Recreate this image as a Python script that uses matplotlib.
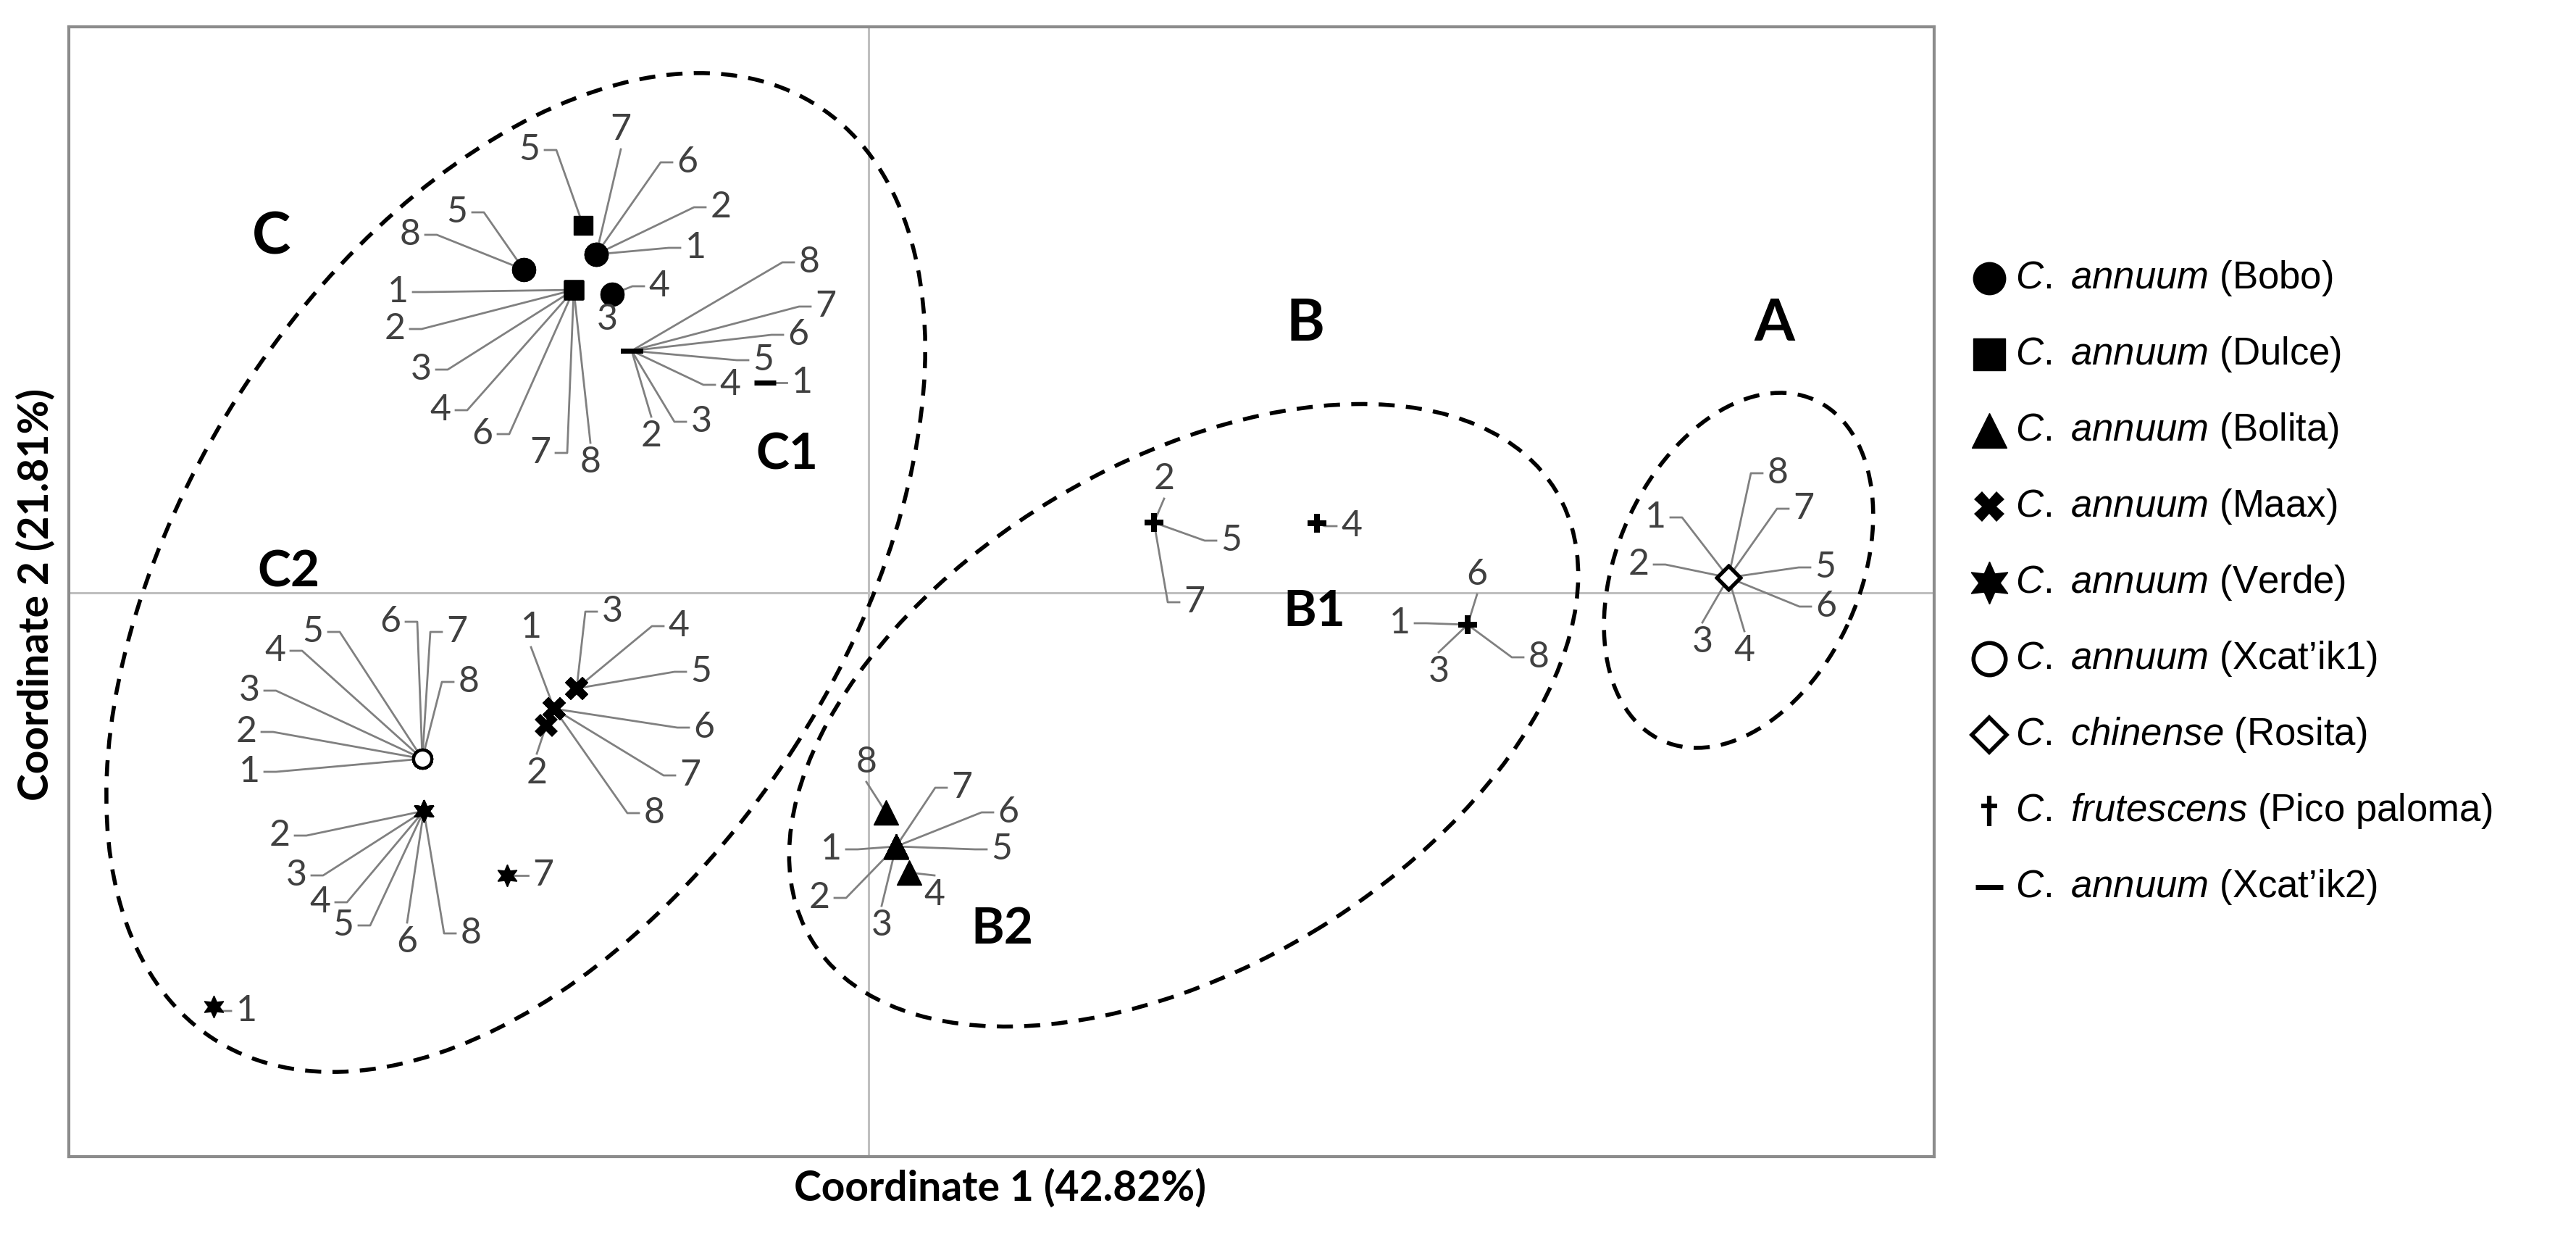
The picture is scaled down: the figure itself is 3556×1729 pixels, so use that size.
import numpy as np
import matplotlib
matplotlib.use("Agg")
import matplotlib.pyplot as plt
from matplotlib.patches import Ellipse
from matplotlib.path import Path

plt.rcParams['mathtext.fontset'] = 'custom'
plt.rcParams['mathtext.it'] = 'Liberation Sans:italic'
plt.rcParams['mathtext.rm'] = 'Liberation Sans'

# sample numbers shown next to each point
samples = [1, 2, 3, 4, 5, 6, 7, 8]

# coordinates of samples 1..8 and where their number sits
bobo_x = [-0.376, -0.376, -0.354, -0.354, -0.476, -0.376, -0.376, -0.476]
bobo_y = [0.467, 0.467, 0.412, 0.412, 0.446, 0.467, 0.467, 0.446]
bobo_lx = [-0.239, -0.204, -0.361, -0.289, -0.568, -0.250, -0.342, -0.633]
bobo_ly = [0.476, 0.532, 0.377, 0.423, 0.525, 0.594, 0.639, 0.494]

dulce_x = [-0.407, -0.407, -0.407, -0.407, -0.394, -0.407, -0.407, -0.407]
dulce_y = [0.418, 0.418, 0.418, 0.418, 0.507, 0.418, 0.418, 0.418]
dulce_lx = [-0.650, -0.654, -0.618, -0.591, -0.468, -0.533, -0.453, -0.384]
dulce_ly = [0.415, 0.364, 0.308, 0.252, 0.611, 0.219, 0.193, 0.180]

bolita_x = [0.038, 0.038, 0.038, 0.056, 0.038, 0.038, 0.038, 0.024]
bolita_y = [-0.350, -0.350, -0.350, -0.386, -0.350, -0.350, -0.350, -0.303]
bolita_lx = [-0.052, -0.068, 0.018, 0.091, 0.184, 0.193, 0.129, -0.003]
bolita_ly = [-0.354, -0.421, -0.459, -0.417, -0.354, -0.303, -0.269, -0.234]

maax_x = [-0.434, -0.445, -0.403, -0.403, -0.403, -0.434, -0.434, -0.434]
maax_y = [-0.160, -0.183, -0.132, -0.132, -0.132, -0.160, -0.160, -0.160]
maax_lx = [-0.466, -0.458, -0.354, -0.262, -0.231, -0.227, -0.246, -0.296]
maax_ly = [-0.048, -0.249, -0.026, -0.046, -0.109, -0.186, -0.252, -0.304]

verde_x = [-0.904, -0.614, -0.614, -0.614, -0.614, -0.614, -0.499, -0.614]
verde_y = [-0.571, -0.301, -0.301, -0.301, -0.301, -0.301, -0.390, -0.301]
verde_lx = [-0.859, -0.813, -0.790, -0.757, -0.725, -0.637, -0.449, -0.549]
verde_ly = [-0.577, -0.335, -0.390, -0.427, -0.459, -0.482, -0.390, -0.470]

xcat1_x = [-0.616] * 8
xcat1_y = [-0.229] * 8
xcat1_lx = [-0.855, -0.859, -0.855, -0.819, -0.767, -0.660, -0.568, -0.552]
xcat1_ly = [-0.247, -0.192, -0.135, -0.080, -0.054, -0.040, -0.054, -0.123]

rosita_x = [1.187] * 8
rosita_y = [0.021] * 8
rosita_lx = [1.086, 1.063, 1.151, 1.209, 1.321, 1.322, 1.291, 1.255]
rosita_ly = [0.104, 0.039, -0.068, -0.080, 0.035, -0.019, 0.116, 0.165]

pico_x = [0.827, 0.394, 0.827, 0.619, 0.394, 0.827, 0.394, 0.827]
pico_y = [-0.044, 0.097, -0.044, 0.096, 0.097, -0.044, 0.097, -0.044]
pico_lx = [0.733, 0.408, 0.787, 0.667, 0.501, 0.840, 0.450, 0.925]
pico_ly = [-0.042, 0.157, -0.109, 0.092, 0.072, 0.025, -0.013, -0.089]

xcat2_x = [-0.143, -0.327, -0.327, -0.327, -0.327, -0.327, -0.327, -0.327]
xcat2_y = [0.290, 0.334, 0.334, 0.334, 0.334, 0.334, 0.334, 0.334]
xcat2_lx = [-0.092, -0.300, -0.231, -0.191, -0.145, -0.097, -0.059, -0.082]
xcat2_ly = [0.290, 0.216, 0.236, 0.287, 0.321, 0.356, 0.395, 0.456]

# cluster ellipses
ell_cx = [-0.487, 0.435, 1.201]
ell_cy = [0.028, -0.169, 0.031]
ell_w = [1.534, 1.200, 0.515]
ell_h = [0.908, 0.696, 0.336]
ell_angle = [57, 31, 66]

group_names = ["C", "B", "A"]
group_x = [-0.824, 0.603, 1.250]
group_y = [0.491, 0.371, 0.371]
sub_names = ["C1", "C2", "B1", "B2"]
sub_x = [-0.113, -0.801, 0.615, 0.184]
sub_y = [0.190, 0.028, -0.026, -0.464]

legend_species = ["C. annuum", "C. annuum", "C. annuum", "C. annuum", "C. annuum",
                  "C. annuum", "C. chinense", "C. frutescens", "C. annuum"]
legend_variety = ["(Bobo)", "(Dulce)", "(Bolita)", "(Maax)", "(Verde)",
                  "(Xcat\u2019ik1)", "(Rosita)", "(Pico paloma)", "(Xcat\u2019ik2)"]

dagger = Path([(0, -1), (0, 1), (-0.55, 0.35), (0.55, 0.35)],
              [Path.MOVETO, Path.LINETO, Path.MOVETO, Path.LINETO])

styles = [
    dict(marker='o', ms=23, mfc='black', mec='black'),
    dict(marker='s', ms=19, mfc='black', mec='black'),
    dict(marker='^', ms=24, mfc='black', mec='black'),
    dict(marker='X', ms=23, mfc='black', mec='black', mew=0),
    dict(marker=(6, 1, 0), ms=22, mfc='black', mec='black'),
    dict(marker='o', ms=18, mfc='white', mec='black', mew=3),
    dict(marker='D', ms=16, mfc='white', mec='black', mew=3.5),
    dict(marker='P', ms=19, mfc='black', mec='black', mew=0),
    dict(marker='_', ms=22, mec='black', mew=5),
]
legend_styles = [
    dict(marker='o', ms=32, mfc='black', mec='black'),
    dict(marker='s', ms=32, mfc='black', mec='black'),
    dict(marker='^', ms=34, mfc='black', mec='black'),
    dict(marker='X', ms=30, mfc='black', mec='black', mew=0),
    dict(marker=(6, 1, 0), ms=42, mfc='black', mec='black'),
    dict(marker='o', ms=32, mfc='white', mec='black', mew=4),
    dict(marker='D', ms=24, mfc='white', mec='black', mew=4),
    dict(marker=dagger, ms=30, mfc='none', mec='black', mew=4.5),
    dict(marker='_', ms=28, mec='black', mew=5),
]

groups = [
    (bobo_x, bobo_y, bobo_lx, bobo_ly),
    (dulce_x, dulce_y, dulce_lx, dulce_ly),
    (bolita_x, bolita_y, bolita_lx, bolita_ly),
    (maax_x, maax_y, maax_lx, maax_ly),
    (verde_x, verde_y, verde_lx, verde_ly),
    (xcat1_x, xcat1_y, xcat1_lx, xcat1_ly),
    (rosita_x, rosita_y, rosita_lx, rosita_ly),
    (pico_x, pico_y, pico_lx, pico_ly),
    (xcat2_x, xcat2_y, xcat2_lx, xcat2_ly),
]

fig = plt.figure(figsize=(35.56, 17.29), dpi=100)
ax = fig.add_axes([0.02672, 0.07692, 0.72412, 0.90168])
ax.set_xlim(-1.104, 1.471)
ax.set_ylim(-0.778, 0.781)
ax.set_xticks([])
ax.set_yticks([])
for sp in ax.spines.values():
    sp.set_color('#8c8c8c')
    sp.set_linewidth(3)

ax.axhline(0, color='#bfbfbf', lw=2.2, zorder=1)
ax.axvline(0, color='#bfbfbf', lw=2.2, zorder=1)

for cx, cy, w, h, a in zip(ell_cx, ell_cy, ell_w, ell_h, ell_angle):
    ax.add_patch(Ellipse((cx, cy), w, h, angle=a, fill=False, ec='black',
                         lw=4, ls=(0, (4, 2.8)), zorder=2))


def leader(px, py, lx, ly):
    dx, dy = lx - px, ly - py
    if abs(dx) > 0.042:
        s = np.sign(dx)
        ex = lx - s * 0.021
        hx = ex - s * 0.016
        ax.plot([px, hx, ex], [py, ly, ly], color='#808080', lw=2.0, zorder=3)
    else:
        s = np.sign(dy)
        ax.plot([px, lx], [py, ly - s * 0.027], color='#808080', lw=2.0, zorder=3)


for (gx, gy, glx, gly), st in zip(groups, styles):
    for n, px, py, lx, ly in zip(samples, gx, gy, glx, gly):
        leader(px, py, lx, ly)
        ax.text(lx, ly, str(n), ha='center', va='center', fontsize=36,
                family='Lato', color='#404040', zorder=5)
    ax.plot(gx, gy, ls='none', zorder=4, **st)

for name, x, y in zip(group_names, group_x, group_y):
    ax.text(x, y, name, ha='center', va='center', fontsize=58,
            family='Lato', fontweight='bold', zorder=6)
for name, x, y in zip(sub_names, sub_x, sub_y):
    ax.text(x, y, name, ha='center', va='center', fontsize=50,
            family='Lato', fontweight='bold', zorder=6)

fig.text(1380 / 3556, 1 - 1640 / 1729, "Coordinate 1 (42.82%)", ha='center',
         va='center', fontsize=41, family='Lato', fontweight='bold')
fig.text(50 / 3556, 1 - 820 / 1729, "Coordinate 2 (21.81%)", ha='center',
         va='center', fontsize=41, family='Lato', fontweight='bold', rotation=90)

# legend drawn in figure pixel units
lax = fig.add_axes([0, 0, 1, 1])
lax.set_xlim(0, 3556)
lax.set_ylim(1729, 0)
lax.axis('off')
lax.patch.set_visible(False)
for i, (sp_name, var, st) in enumerate(zip(legend_species, legend_variety, legend_styles)):
    yy = 384 + i * 105
    lax.plot([2746], [yy], ls='none', **st)
    lab = r"$\mathit{" + sp_name.replace(" ", r"\ ") + "}$ " + var
    lax.text(2782, yy, lab, ha='left', va='center', fontsize=38,
             family='Liberation Sans')

fig.savefig("out.png", dpi=100, facecolor='white')
